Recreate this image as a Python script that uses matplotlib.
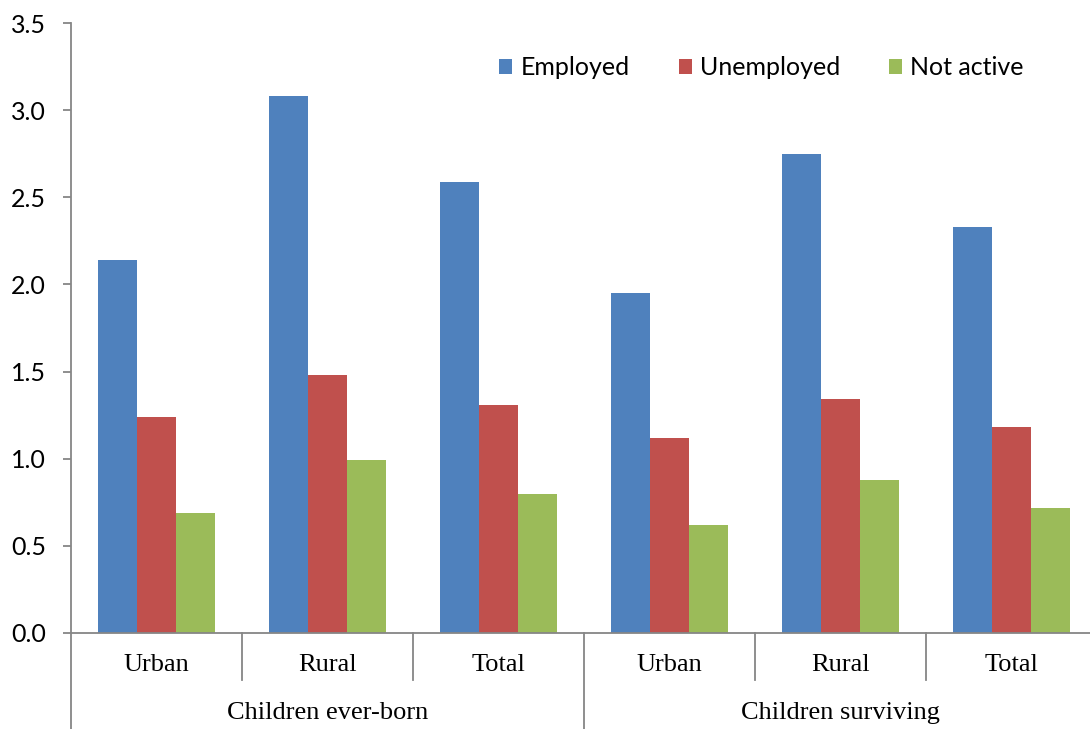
import numpy as np
import matplotlib.pyplot as plt
import matplotlib.transforms as mtransforms

# values
areas = ['Urban', 'Rural', 'Total', 'Urban', 'Rural', 'Total']
groups = ['Children ever-born', 'Children surviving']
employed = [2.14, 3.08, 2.59, 1.95, 2.75, 2.33]
unemployed = [1.24, 1.48, 1.31, 1.12, 1.34, 1.18]
not_active = [0.69, 0.99, 0.80, 0.62, 0.88, 0.72]

series = [('Employed', employed, '#4F81BD'),
          ('Unemployed', unemployed, '#C0504D'),
          ('Not active', not_active, '#9BBB59')]

fig = plt.figure(figsize=(10.9, 7.29), dpi=100)
# plot area runs a little past the right edge of the image, as in the original
ax = fig.add_axes([0.0651, 0.1317, 0.9413, 0.8367])

x = np.arange(len(areas))
w = 0.227
for i, (name, vals, col) in enumerate(series):
    ax.bar(x + (i - 1) * w, vals, w, color=col, label=name)

ax.set_xlim(-0.5, len(areas) - 0.5)
ax.set_ylim(0, 3.5)
ax.set_yticks(np.arange(0, 3.51, 0.5))
ax.set_yticklabels(['%.1f' % v for v in np.arange(0, 3.51, 0.5)],
                   fontsize=18, family='Lato')
ax.set_xticks([])

grey = '#868686'
for s in ['top', 'right']:
    ax.spines[s].set_visible(False)
for s in ['left', 'bottom']:
    ax.spines[s].set_color(grey)
    ax.spines[s].set_linewidth(1.3)
ax.tick_params(axis='y', color=grey, length=6, width=1.3, pad=12)

# category axis with two levels
tr = mtransforms.blended_transform_factory(ax.transData, ax.transAxes)
for b in [0.5, 1.5, 3.5, 4.5]:
    ax.plot([b, b], [0, -0.077], transform=tr, color=grey, lw=1.3, clip_on=False)
for b in [-0.5, 2.5, 5.5]:
    ax.plot([b, b], [0, -0.16], transform=tr, color=grey, lw=1.3, clip_on=False)
for xi, a in zip(x, areas):
    ax.text(xi, -0.053, a, transform=tr, ha='center', va='center',
            fontsize=19, family='Liberation Serif')
for gi, g in enumerate(groups):
    ax.text(gi * 3 + 1, -0.131, g, transform=tr, ha='center', va='center',
            fontsize=19, family='Liberation Serif')

fig.legend(*ax.get_legend_handles_labels(), loc='center right',
           bbox_to_anchor=(0.939, 0.907), ncol=3, frameon=False,
           prop={'family': 'Lato', 'size': 18}, handlelength=0.52, handleheight=0.52,
           columnspacing=1.95, handletextpad=0.33, borderpad=0, borderaxespad=0)

fig.savefig('out.png', dpi=100)
